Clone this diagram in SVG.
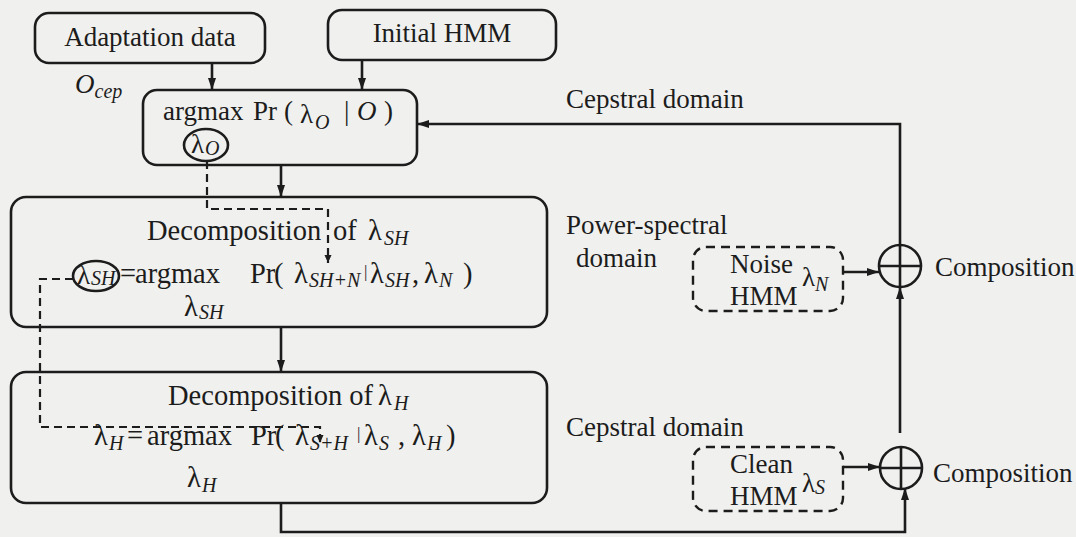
<svg xmlns="http://www.w3.org/2000/svg" width="1076" height="537" viewBox="0 0 1076 537">
  <style>
    text { font-family: "Liberation Serif", "Times New Roman", serif; font-size: 27px; fill: #1c1c1c; }
    .big { font-size: 28.5px; }
    .it { font-style: italic; }
    .sub { font-size: 20px; font-style: italic; }
    .bar { font-size: 17px; }
    .box { fill: none; stroke: #1c1c1c; stroke-width: 2.6; }
    .dbox { fill: none; stroke: #1c1c1c; stroke-width: 2.4; stroke-dasharray: 9 6; }
    .wire { fill: none; stroke: #1c1c1c; stroke-width: 2.6; }
    .dash { fill: none; stroke: #1c1c1c; stroke-width: 2.2; stroke-dasharray: 8 5; }
  </style>
  <defs>
    <marker id="arr" markerUnits="userSpaceOnUse" markerWidth="14" markerHeight="12" refX="12" refY="6" orient="auto">
      <path d="M0,2 L12,6 L0,10 Z" fill="#1c1c1c"/>
    </marker>
    <marker id="arrs" markerUnits="userSpaceOnUse" markerWidth="10" markerHeight="10" refX="8" refY="5" orient="auto">
      <path d="M0,1.5 L8,5 L0,8.5 Z" fill="#1c1c1c"/>
    </marker>
  </defs>

  <rect width="1076" height="537" fill="#f0f0ee"/>

  <!-- inputs -->
  <g id="adaptation-data">
    <rect class="box" x="35" y="13" width="230" height="50" rx="14"/>
    <text x="150" y="46" text-anchor="middle">Adaptation data</text>
    <text x="75" y="93" class="it">O<tspan class="sub" dy="5">cep</tspan></text>
  </g>

  <g id="initial-hmm">
    <rect class="box" x="328" y="10" width="228" height="50" rx="14"/>
    <text x="442" y="42" text-anchor="middle">Initial HMM</text>
  </g>

  <!-- maximum-likelihood estimate of the observation model -->
  <g id="argmax-o">
    <rect class="box" x="143" y="90" width="274" height="75" rx="14"/>
    <text y="120"><tspan x="163">argmax</tspan><tspan x="253">Pr</tspan><tspan x="284">(</tspan><tspan x="300" dy="3">λ</tspan><tspan x="315" dy="6" class="sub">O</tspan><tspan x="344" dy="-9">|</tspan><tspan x="357" class="it">O</tspan><tspan x="384">)</tspan></text>
    <ellipse class="box" cx="206" cy="145" rx="22" ry="16"/>
    <text y="153"><tspan x="191">λ</tspan><tspan x="205" dy="2" class="sub">O</tspan></text>
  </g>

  <!-- power-spectral decomposition -->
  <g id="decomp-sh">
    <rect class="box" x="11" y="197" width="536" height="130" rx="15"/>
    <text class="big" y="240"><tspan x="147">Decomposition</tspan><tspan x="333">of</tspan><tspan x="368">λ</tspan><tspan x="384" dy="5" class="sub">SH</tspan></text>
    <ellipse class="box" cx="96" cy="276" rx="23" ry="15"/>
    <text y="284"><tspan x="77">λ</tspan><tspan x="91" dy="1" class="sub">SH</tspan></text>
    <text class="big" y="283"><tspan x="120">=</tspan><tspan x="135">argmax</tspan><tspan x="250">Pr</tspan><tspan x="274">(</tspan><tspan x="294">λ</tspan><tspan x="309" dy="4" class="sub">SH+N</tspan><tspan x="364" dy="-10" class="bar">|</tspan><tspan x="370" dy="6">λ</tspan><tspan x="385" dy="4" class="sub">SH</tspan><tspan x="412" dy="-4">,</tspan><tspan x="424">λ</tspan><tspan x="439" dy="4" class="sub">N</tspan><tspan x="463" dy="-4">)</tspan></text>
    <text class="big" y="316"><tspan x="184">λ</tspan><tspan x="199" dy="3" class="sub">SH</tspan></text>
  </g>

  <!-- cepstral decomposition -->
  <g id="decomp-h">
    <rect class="box" x="11" y="372" width="536" height="131" rx="15"/>
    <text class="big" y="405"><tspan x="168">Decomposition of</tspan><tspan x="378">λ</tspan><tspan x="394" dy="5" class="sub">H</tspan></text>
    <text class="big" y="445"><tspan x="94">λ</tspan><tspan x="109" dy="5" class="sub">H</tspan><tspan x="127" dy="-5">=</tspan><tspan x="147">argmax</tspan><tspan x="251">Pr</tspan><tspan x="275">(</tspan><tspan x="295">λ</tspan><tspan x="310" dy="5" class="sub">S+H</tspan><tspan x="357" dy="-11" class="bar">|</tspan><tspan x="364" dy="6">λ</tspan><tspan x="379" dy="5" class="sub">S</tspan><tspan x="398" dy="-5">,</tspan><tspan x="412">λ</tspan><tspan x="427" dy="5" class="sub">H</tspan><tspan x="446" dy="-5">)</tspan></text>
    <text class="big" y="487"><tspan x="187">λ</tspan><tspan x="202" dy="5" class="sub">H</tspan></text>
  </g>

  <g id="noise-hmm">
    <rect class="dbox" x="693" y="247" width="150" height="64" rx="13"/>
    <text x="730" y="273">Noise</text>
    <text x="730" y="305">HMM</text>
    <text x="802" y="286">λ<tspan class="sub" dy="5">N</tspan></text>
  </g>

  <g id="clean-hmm">
    <rect class="dbox" x="693" y="447" width="150" height="64" rx="13"/>
    <text x="730" y="473">Clean</text>
    <text x="730" y="505">HMM</text>
    <text x="802" y="492">λ<tspan class="sub" dy="2">S</tspan></text>
  </g>

  <g id="composition-top">
    <circle class="box" cx="900" cy="266" r="21"/>
    <path class="box" d="M879,266 H921 M900,245 V287"/>
    <text x="935" y="276">Composition</text>
  </g>

  <g id="composition-bottom">
    <circle class="box" cx="901" cy="468" r="21"/>
    <path class="box" d="M880,468 H922 M901,447 V489"/>
    <text x="933" y="482">Composition</text>
  </g>

  <g id="domain-labels">
    <text x="566" y="108">Cepstral domain</text>
    <text x="566" y="234">Power-spectral</text>
    <text x="576" y="267">domain</text>
    <text x="566" y="436">Cepstral domain</text>
  </g>

  <g id="connectors">
    <line class="wire" x1="212" y1="63" x2="212" y2="90" marker-end="url(#arr)"/>
    <line class="wire" x1="362" y1="60" x2="362" y2="90" marker-end="url(#arr)"/>
    <line class="wire" x1="281" y1="165" x2="281" y2="197" marker-end="url(#arr)"/>
    <line class="wire" x1="281" y1="327" x2="281" y2="372" marker-end="url(#arr)"/>
    <path class="wire" d="M900,245 V124 H417" marker-end="url(#arr)"/>
    <line class="wire" x1="843" y1="272" x2="879" y2="272" marker-end="url(#arr)"/>
    <line class="wire" x1="843" y1="467" x2="880" y2="467" marker-end="url(#arr)"/>
    <line class="wire" x1="900" y1="433" x2="900" y2="287" marker-end="url(#arr)"/>
    <path class="wire" d="M281,503 V532 H905 V488" marker-end="url(#arr)"/>
    <path class="dash" d="M207,161 V209 H328 V263" marker-end="url(#arrs)"/>
    <path class="dash" d="M73,279 H40 V427 H320 V443" marker-end="url(#arrs)"/>
  </g>
</svg>
